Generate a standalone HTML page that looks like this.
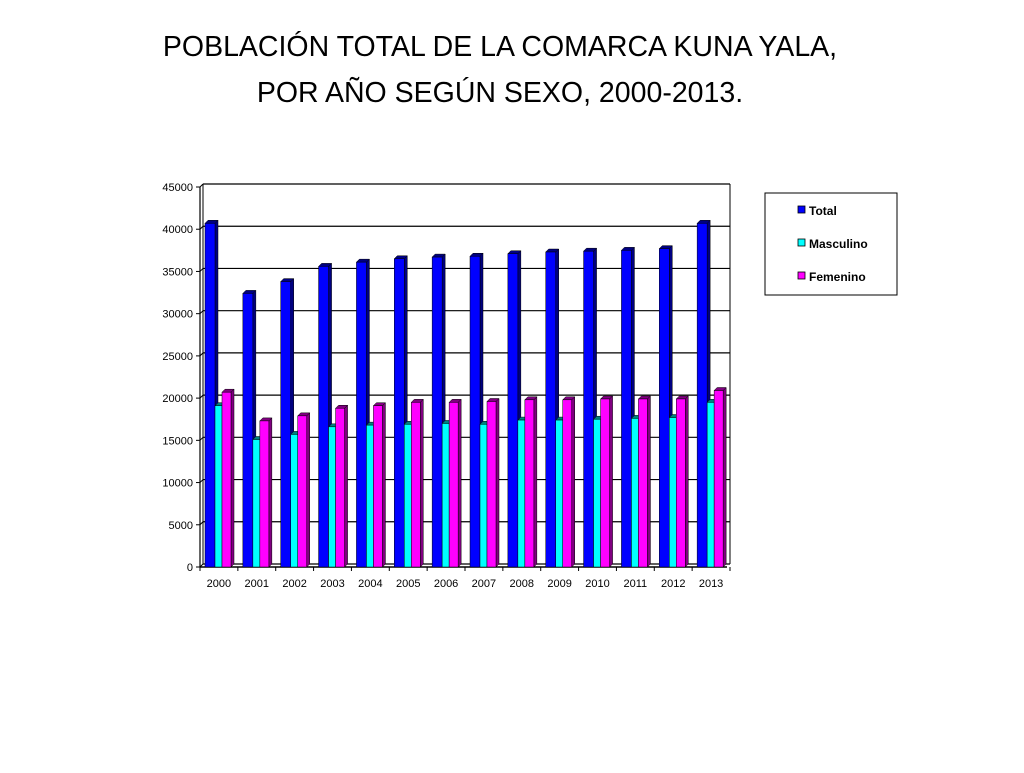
<!DOCTYPE html>
<html><head><meta charset="utf-8"><style>
body{margin:0;width:1024px;height:768px;background:#fff;overflow:hidden;font-family:"Liberation Sans",Arial,sans-serif}
</style></head><body>
<svg id="c" width="1024" height="768" xmlns="http://www.w3.org/2000/svg">
<text x="500" y="56" text-anchor="middle" font-size="28.5" font-family="Liberation Sans">POBLACIÓN TOTAL DE LA COMARCA KUNA YALA,</text>
<text x="500" y="102" text-anchor="middle" font-size="28.5" font-family="Liberation Sans">POR AÑO SEGÚN SEXO, 2000-2013.</text>
<g id="plot"></g>
<g>
<rect x="765" y="193" width="132" height="102" fill="#fff" stroke="#000" stroke-width="1"/>
<rect x="798" y="206" width="7" height="7" fill="#0000ff" stroke="#000" stroke-width="0.8"/>
<text x="809" y="215" font-size="12" font-weight="bold">Total</text>
<rect x="798" y="239" width="7" height="7" fill="#00ffff" stroke="#000" stroke-width="0.8"/>
<text x="809" y="248" font-size="12" font-weight="bold">Masculino</text>
<rect x="798" y="272" width="7" height="7" fill="#ff00ff" stroke="#000" stroke-width="0.8"/>
<text x="809" y="281" font-size="12" font-weight="bold">Femenino</text>
</g>
</svg>
<script>
const categories=["2000","2001","2002","2003","2004","2005","2006","2007","2008","2009","2010","2011","2012","2013"];
const total=[40700,32400,33800,35600,36100,36500,36700,36800,37100,37300,37400,37500,37700,40700];
const masculino=[19100,15100,15700,16600,16800,16900,17000,16900,17400,17400,17500,17600,17700,19500];
const femenino=[20700,17300,17900,18800,19100,19500,19500,19600,19800,19800,19900,19900,19900,20900];
const yTicks=[0,5000,10000,15000,20000,25000,30000,35000,40000,45000];
const NS="http://www.w3.org/2000/svg";
const g=document.getElementById('plot');
const X0=200,X1=730,Y0=567,Y1=187,YMAX=45000,D=3;
const y=v=>Y0-(v/YMAX)*(Y0-Y1);
const band=(X1-X0)/categories.length;
const xc=i=>X0+band*i;
function mk(tag,attrs){const e=document.createElementNS(NS,tag);for(const k in attrs)e.setAttribute(k,attrs[k]);g.appendChild(e);return e;}
yTicks.forEach(t=>{
 const l=mk('line',{x1:X0+D,y1:y(t)-D,x2:X1,y2:y(t)-D,stroke:'#000','stroke-width':1.2});
 
 
 mk('line',{x1:X0,y1:y(t),x2:X0+D,y2:y(t)-D,stroke:'#000'});
 mk('line',{x1:X0-4,y1:y(t),x2:X0,y2:y(t),stroke:'#000'});
 const tx=mk('text',{x:X0-7,y:y(t)+4,'text-anchor':'end','font-size':11});
 tx.textContent=t;
 
 
});
mk('line',{x1:X0,y1:Y1,x2:X0,y2:Y0,stroke:'#000','stroke-width':1.2});
mk('line',{x1:X0+D,y1:Y1-D,x2:X0+D,y2:Y0-D,stroke:'#000'});
mk('line',{x1:X1,y1:Y1-D,x2:X1,y2:Y0-D,stroke:'#000'});
mk('line',{x1:X0,y1:Y0,x2:X1-D,y2:Y0,stroke:'#000','stroke-width':1.5});
const series=[[total,'#0000ff','#000080','total',10],[masculino,'#00ffff','#008080','masculino',7],[femenino,'#ff00ff','#800080','femenino',9]];
categories.forEach((c,i)=>{
 let x=xc(i)+5;
 series.forEach((s,j)=>{
  const v=s[0][i],bw=s[4],top=y(v);
  mk('polygon',{points:`${x+bw},${top} ${x+bw+D},${top-D} ${x+bw+D},${Y0-D} ${x+bw},${Y0}`,fill:s[2],stroke:'#000','stroke-width':0.5});
  mk('polygon',{points:`${x},${top} ${x+D},${top-D} ${x+bw+D},${top-D} ${x+bw},${top}`,fill:s[2],stroke:'#000','stroke-width':0.5});
  const r=mk('rect',{x:x,y:top,width:bw,height:Y0-top,fill:s[1],stroke:'#000','stroke-width':0.5});
  
  
  x+=bw;
 });
 mk('line',{x1:xc(i),y1:Y0,x2:xc(i),y2:Y0+4,stroke:'#000'});
 const t=mk('text',{x:xc(i)+band/2,y:Y0+20,'text-anchor':'middle','font-size':11});
 t.textContent=c;
 
 
});
mk('line',{x1:X1,y1:Y0,x2:X1,y2:Y0+4,stroke:'#000'});
</script>
</body></html>
